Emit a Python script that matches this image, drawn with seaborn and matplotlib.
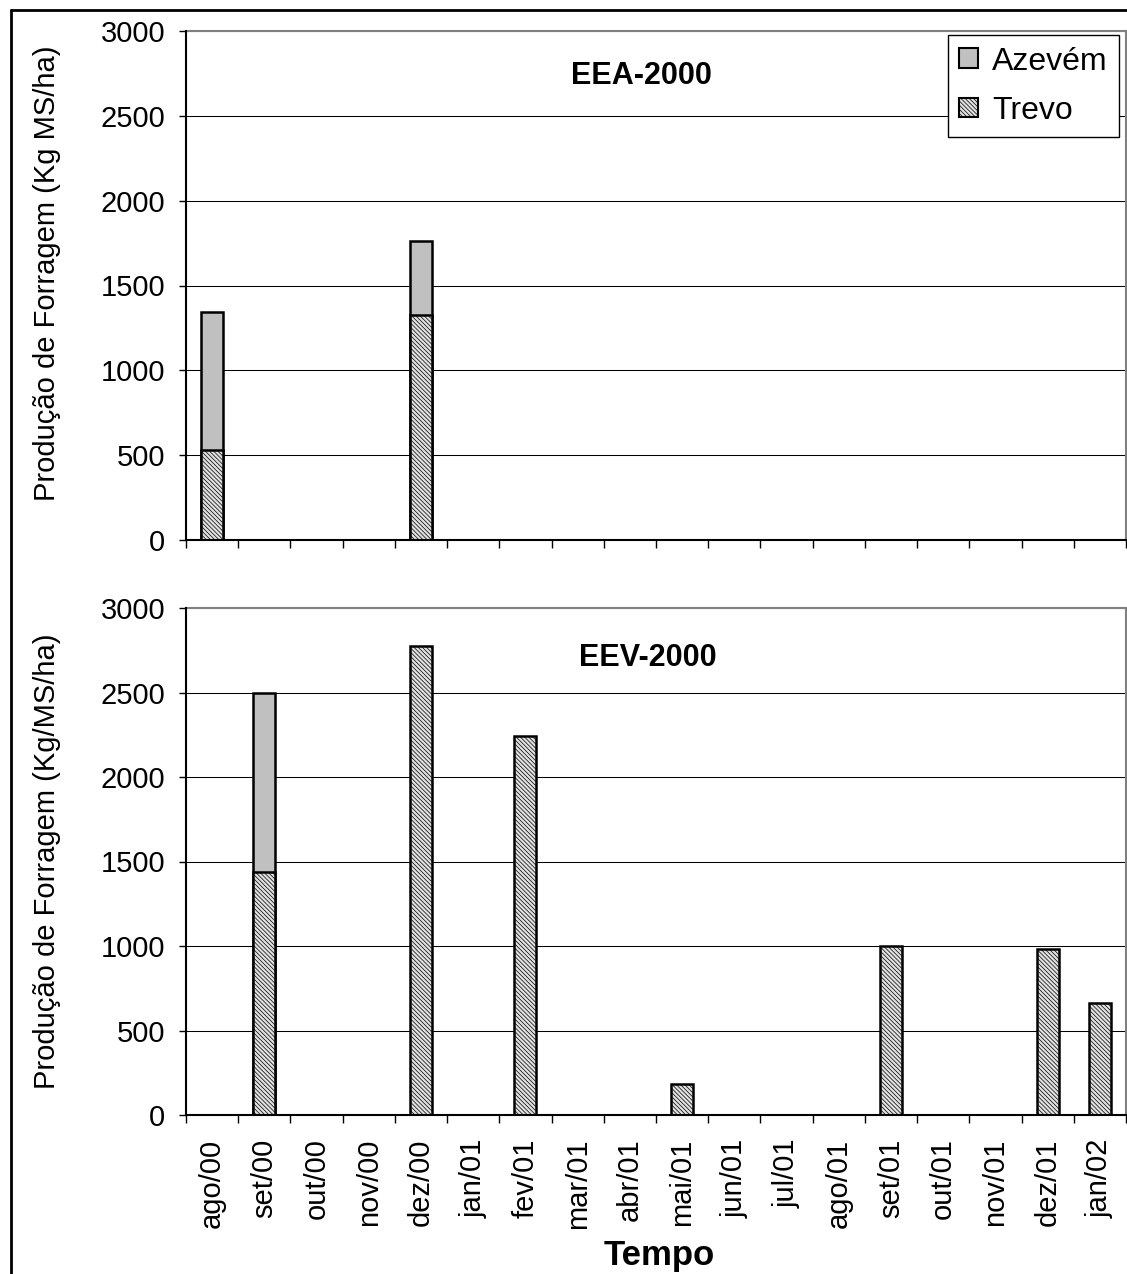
import numpy as np
import pandas as pd
import matplotlib
matplotlib.use("Agg")
import matplotlib.pyplot as plt
from matplotlib.patches import Patch
from matplotlib.lines import Line2D
import seaborn as sns

# ---------------- data ----------------
months = ["ago/00", "set/00", "out/00", "nov/00", "dez/00", "jan/01", "fev/01",
          "mar/01", "abr/01", "mai/01", "jun/01", "jul/01", "ago/01", "set/01",
          "out/01", "nov/01", "dez/01", "jan/02"]

eea_trevo = [533, np.nan, np.nan, np.nan, 1329, np.nan, np.nan, np.nan, np.nan,
             np.nan, np.nan, np.nan, np.nan, np.nan, np.nan, np.nan, np.nan, np.nan]
eea_azevem = [808, np.nan, np.nan, np.nan, 431, np.nan, np.nan, np.nan, np.nan,
              np.nan, np.nan, np.nan, np.nan, np.nan, np.nan, np.nan, np.nan, np.nan]

eev_trevo = [np.nan, 1435, np.nan, np.nan, 2776, np.nan, 2241, np.nan, np.nan,
             184, np.nan, np.nan, np.nan, 998, np.nan, np.nan, 984, 661]
eev_azevem = [np.nan, 1065, np.nan, np.nan, np.nan, np.nan, np.nan, np.nan, np.nan,
              np.nan, np.nan, np.nan, np.nan, np.nan, np.nan, np.nan, np.nan, np.nan]

yticks = [0, 500, 1000, 1500, 2000, 2500, 3000]
series_names = ["Azevém", "Trevo"]
titles = ["EEA-2000", "EEV-2000"]
ylabels = ["Produção de Forragem (Kg MS/ha)", "Produção de Forragem (Kg/MS/ha)"]
xlabel = "Tempo"

# ---------------- style ----------------
sns.set_theme(style="white")
plt.rcParams["font.family"] = ["Liberation Sans", "DejaVu Sans"]
plt.rcParams["hatch.linewidth"] = 0.5
plt.rcParams["text.color"] = "black"
plt.rcParams["axes.labelcolor"] = "black"
plt.rcParams["xtick.color"] = "black"
plt.rcParams["ytick.color"] = "black"

AZ_COLOR = "#c0c0c0"
TR_FACE = "#e0e0e0"
TR_HATCH = "\\" * 8
TICK_FS = 21
BAR_W = 0.42
BAR_LW = 1.8

W, H = 1127, 1274
fig = plt.figure(figsize=(W / 100, H / 100), dpi=100)

def fx(px):
    return px / W

def fy(py):
    return 1 - py / H

ax1 = fig.add_axes([fx(186), fy(540), fx(1126) - fx(186), fy(31) - fy(540)])
ax2 = fig.add_axes([fx(186), fy(1115), fx(1126) - fx(186), fy(608) - fy(1115)])

def draw_panel(ax, trevo, azevem):
    tr = np.array(trevo, dtype=float)
    az = np.array(azevem, dtype=float)
    total = np.where(np.isnan(az), np.nan, np.nan_to_num(tr) + np.nan_to_num(az))
    df_tot = pd.DataFrame({"mes": months, "valor": total})
    df_tr = pd.DataFrame({"mes": months, "valor": tr})
    sns.barplot(data=df_tot, x="mes", y="valor", order=months, color=AZ_COLOR,
                saturation=1, width=BAR_W, edgecolor="black", linewidth=BAR_LW,
                errorbar=None, ax=ax, zorder=3)
    sns.barplot(data=df_tr, x="mes", y="valor", order=months, color=TR_FACE,
                saturation=1, width=BAR_W, edgecolor="black", linewidth=BAR_LW,
                hatch=TR_HATCH, errorbar=None, ax=ax, zorder=4)
    ax.set_xlim(-0.5, len(months) - 0.5)
    ax.set_ylim(0, 3000)
    ax.set_yticks(yticks)
    ax.set_yticklabels([str(v) for v in yticks], fontsize=TICK_FS)
    ax.yaxis.grid(True, color="black", linewidth=0.75, zorder=0)
    ax.xaxis.grid(False)
    ax.set_axisbelow(True)
    ax.tick_params(axis="y", which="major", direction="out", length=5, width=1,
                   color="black", pad=10, left=True)
    ax.set_xticks(np.arange(-0.5, len(months), 1.0), minor=True)
    ax.tick_params(axis="x", which="minor", direction="out", length=6, width=1,
                   color="black", bottom=True)
    ax.tick_params(axis="x", which="major", length=0, pad=17)
    for s in ["left", "bottom"]:
        ax.spines[s].set_color("black")
        ax.spines[s].set_linewidth(1.5)
        ax.spines[s].set_zorder(5)
    for s in ["top", "right"]:
        ax.spines[s].set_color("#808080")
        ax.spines[s].set_linewidth(1.5)
    ax.set_xlabel("")

draw_panel(ax1, eea_trevo, eea_azevem)
draw_panel(ax2, eev_trevo, eev_azevem)

# x tick labels
ax1.set_xticks(range(len(months)))
ax1.set_xticklabels([""] * len(months))
ax2.set_xticks(range(len(months)))
ax2.set_xticklabels(months, rotation=90, fontsize=TICK_FS)

# y labels
ax1.set_ylabel(ylabels[0], fontsize=TICK_FS, va="center")
ax1.yaxis.set_label_coords(-0.148, 0.525)
ax2.set_ylabel(ylabels[1], fontsize=TICK_FS, va="center")
ax2.yaxis.set_label_coords(-0.148, 0.5)

# x label
ax2.set_xlabel(xlabel, fontsize=25, fontweight="bold", va="baseline")
ax2.xaxis.set_label_coords(0.503, -0.296)

# panel titles
ax1.text(0.484, 0.896, titles[0], transform=ax1.transAxes, ha="center",
         va="baseline", fontsize=22, fontweight="bold")
ax2.text(0.491, 0.886, titles[1], transform=ax2.transAxes, ha="center",
         va="baseline", fontsize=22, fontweight="bold")

# legend
handles = [Patch(facecolor=AZ_COLOR, edgecolor="black", linewidth=1.5, label=series_names[0]),
           Patch(facecolor=TR_FACE, edgecolor="black", linewidth=1.5, hatch=TR_HATCH,
                 label=series_names[1])]
leg = ax1.legend(handles=handles, loc="upper right", bbox_to_anchor=(0.9926, 0.992),
                 borderaxespad=0, fontsize=23, frameon=True, fancybox=False,
                 shadow=False, handlelength=0.58, handleheight=0.58,
                 handletextpad=0.45, labelspacing=0.6, borderpad=0.36)
leg.get_frame().set_edgecolor("black")
leg.get_frame().set_linewidth(1.0)
leg.get_frame().set_alpha(1)
leg.set_zorder(10)

# outer frame (top and left borders)
fig.add_artist(Line2D([fx(11), 1.0], [fy(10), fy(10)], color="black", linewidth=2,
                      transform=fig.transFigure))
fig.add_artist(Line2D([fx(11), fx(11)], [fy(10), 0.0], color="black", linewidth=2,
                      transform=fig.transFigure))

fig.savefig("out.png", dpi=100)
